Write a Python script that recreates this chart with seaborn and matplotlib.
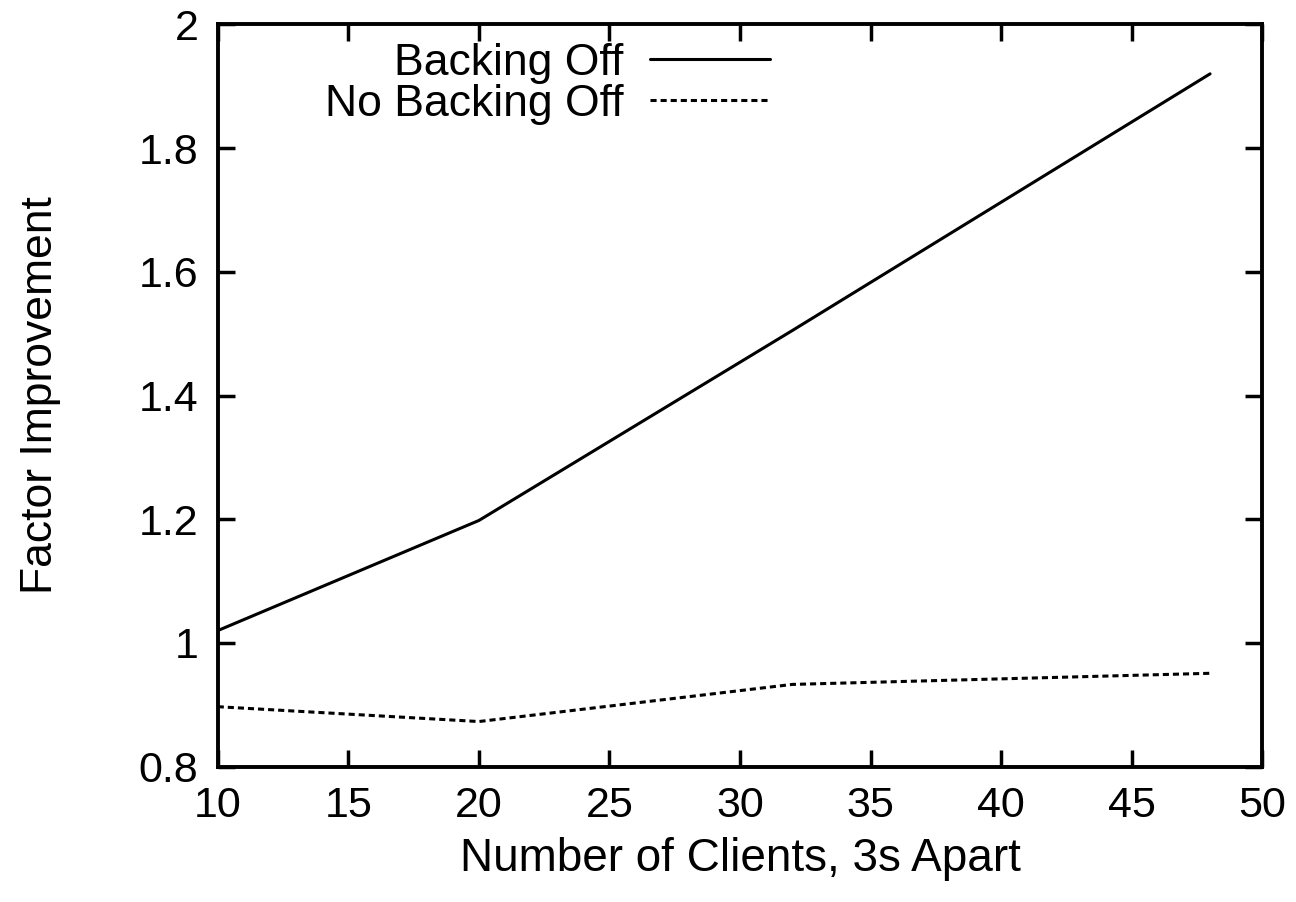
import matplotlib
matplotlib.use("Agg")
import matplotlib.pyplot as plt
import pandas as pd
import seaborn as sns
from matplotlib.ticker import FuncFormatter

# Values
clients = [10, 20, 32, 48]
backing_off = [1.02, 1.198, 1.505, 1.92]
no_backing_off = [0.897, 0.873, 0.933, 0.951]
series_names = ["Backing Off", "No Backing Off"]

df = pd.DataFrame({
    "clients": clients * 2,
    "factor": backing_off + no_backing_off,
    "series": [series_names[0]] * len(clients) + [series_names[1]] * len(clients),
})

sns.set_style("ticks")
plt.rcParams["font.family"] = ["Liberation Sans", "DejaVu Sans"]
plt.rcParams["text.color"] = "black"
plt.rcParams["axes.labelcolor"] = "black"

fig, ax = plt.subplots(figsize=(12.96, 9.02), dpi=100)
fig.subplots_adjust(left=0.168, right=0.974, top=0.973, bottom=0.150)

sns.lineplot(data=df, x="clients", y="factor", style="series",
             dashes={series_names[0]: "", series_names[1]: (2.0, 1.3)},
             color="black", linewidth=2.2, ax=ax, legend=False)

# legend entries drawn gnuplot-style: label then sample
handles = ax.get_lines()[:2]
ax.legend(handles, series_names, loc="upper right", bbox_to_anchor=(0.529, 0.975),
          frameon=False, markerfirst=False, fontsize=32, handlelength=2.7,
          handletextpad=0.6, labelspacing=0.0, borderpad=0, borderaxespad=0)

ax.set_xlim(10, 50)
ax.set_ylim(0.8, 2.0)
ax.set_xticks(range(10, 51, 5))
ax.set_yticks([0.8, 1.0, 1.2, 1.4, 1.6, 1.8, 2.0])
ax.yaxis.set_major_formatter(FuncFormatter(lambda v, p: "%g" % round(v, 2)))

ax.tick_params(direction="in", length=12, width=2.5, labelsize=31,
               top=True, right=True, pad=14, colors="black")
for s in ax.spines.values():
    s.set_visible(True)
    s.set_linewidth(2.8)
    s.set_color("black")

ax.set_xlabel("Number of Clients, 3s Apart", fontsize=33, labelpad=8)
ax.set_ylabel("Factor Improvement", fontsize=32, labelpad=56)

fig.savefig("out.png", dpi=100)
